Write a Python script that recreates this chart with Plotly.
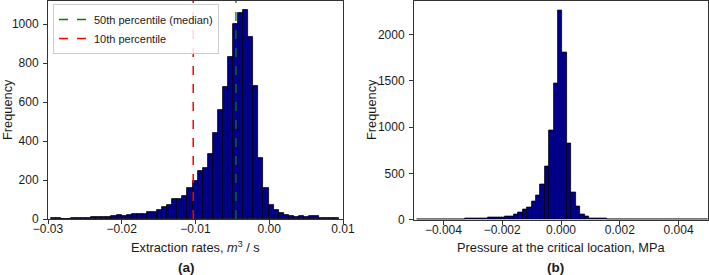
import plotly.graph_objects as go

# ---------------- data ----------------
# Panel (a): extraction rates histogram
a_bin_start = -0.02964
a_bin_width = 0.000687
a_counts = [5, 3, 2, 2, 3, 4, 5, 6, 8, 10, 11, 12, 15, 18, 17, 18, 24, 26, 28, 36,
            38, 46, 60, 73, 101, 101, 118, 159, 197, 248, 260, 333, 439, 559, 675, 831,
            998, 1058, 1070, 933, 682, 311, 157, 72, 46, 32, 20, 17, 10, 17, 10, 14, 14,
            4, 3, 3, 3]
a_median = -0.00452
a_p10 = -0.01031

# Panel (b): pressure histogram
b_bin_start = -0.0049
b_bin_width = 0.00015
b_counts = [2, 2, 1, 2, 3, 2, 3, 3, 4, 5, 6, 8, 10, 12, 14, 12, 22, 20, 22, 25,
            30, 35, 57, 78, 104, 132, 193, 258, 375, 578, 960, 1465, 2253, 1805, 823,
            290, 139, 60, 31, 14, 12, 10, 8, 6, 5, 4, 4, 3, 3, 3, 2, 2, 2, 2, 2, 2, 2,
            1, 1, 1, 1, 1, 1, 1, 1, 1]

a_xticks = [-0.03, -0.02, -0.01, 0.00, 0.01]
a_xticklabels = ["\u22120.03", "\u22120.02", "\u22120.01", "0.00", "0.01"]
a_yticks = [0, 200, 400, 600, 800, 1000]
b_xticks = [-0.004, -0.002, 0.0, 0.002, 0.004]
b_xticklabels = ["\u22120.004", "\u22120.002", "0.000", "0.002", "0.004"]
b_yticks = [0, 500, 1000, 1500, 2000]

# ---------------- figure ----------------
W, H = 709, 275
FONT = "Liberation Sans, Arial, sans-serif"
TXT = "#1a1a1a"
SPINE = "#333333"

a_centers = [a_bin_start + a_bin_width * (i + 0.5) for i in range(len(a_counts))]
b_centers = [b_bin_start + b_bin_width * (i + 0.5) for i in range(len(b_counts))]

fig = go.Figure()
fig.add_trace(go.Bar(x=a_centers, y=a_counts, width=a_bin_width,
                     marker=dict(color="#00008B", line=dict(color="black", width=0.8)),
                     xaxis="x", yaxis="y", showlegend=False, hoverinfo="skip"))
fig.add_trace(go.Bar(x=b_centers, y=b_counts, width=b_bin_width,
                     marker=dict(color="#00008B", line=dict(color="black", width=0.8)),
                     xaxis="x2", yaxis="y2", showlegend=False, hoverinfo="skip"))

fig.add_shape(type="line", x0=a_median, x1=a_median, xref="x", yref="y domain", y0=0, y1=1,
              line=dict(color="#008000", width=1.3, dash="dash"), showlegend=True,
              name="50th percentile (median)")
fig.add_shape(type="line", x0=a_p10, x1=a_p10, xref="x", yref="y domain", y0=0, y1=1,
              line=dict(color="red", width=1.5, dash="dash"), showlegend=True,
              name="10th percentile")

def px_x(p):
    return p / W

def px_y(p):
    return 1 - p / H

axis_common = dict(showline=True, mirror=True, linecolor=SPINE, linewidth=1,
                   ticks="outside", ticklen=4, tickwidth=1, tickcolor=SPINE,
                   showgrid=False, zeroline=False, automargin=False,
                   tickfont=dict(family=FONT, size=12, color=TXT))

fig.update_layout(
    template="none",
    width=W, height=H,
    margin=dict(l=0, r=0, t=0, b=0, autoexpand=False),
    paper_bgcolor="white", plot_bgcolor="white",
    bargap=0,
    xaxis=dict(domain=[px_x(48), px_x(343)], range=[-0.03, 0.01], ticklabelstandoff=-5,
               tickvals=a_xticks, ticktext=a_xticklabels, anchor="y", **axis_common),
    yaxis=dict(domain=[px_y(219), px_y(1)], range=[0, 1118], ticklabelstandoff=2,
               tickvals=a_yticks, anchor="x", **axis_common),
    xaxis2=dict(domain=[px_x(414), px_x(708)], range=[-0.005, 0.005], ticklabelstandoff=-5,
                tickvals=b_xticks, ticktext=b_xticklabels, anchor="y2", **axis_common),
    yaxis2=dict(domain=[px_y(219.6), px_y(0.5)], range=[0, 2366], ticklabelstandoff=2,
                tickvals=b_yticks, anchor="x2", **axis_common),
    legend=dict(x=px_x(53), y=px_y(4), xanchor="left", yanchor="top",
                bgcolor="rgba(255,255,255,0.85)", bordercolor="#cccccc", borderwidth=1,
                font=dict(family=FONT, size=11, color=TXT),
                itemwidth=30, tracegroupgap=0),
    font=dict(family=FONT, color=TXT),
)

annotations = [
    dict(text="Frequency", x=px_x(7), y=px_y(110), textangle=-90, font=dict(size=12.8)),
    dict(text="Frequency", x=px_x(371), y=px_y(110), textangle=-90, font=dict(size=12.8)),
    dict(text="Extraction rates, <i>m</i><sup>3</sup> / s", x=px_x(195), y=px_y(247),
         font=dict(size=12.8)),
    dict(text="Pressure at the critical location, MPa", x=px_x(561), y=px_y(247),
         font=dict(size=12.8)),
    dict(text="<b>(a)</b>", x=px_x(187), y=px_y(267), font=dict(size=13.5)),
    dict(text="<b>(b)</b>", x=px_x(555), y=px_y(267), font=dict(size=13.5)),
]
for an in annotations:
    an.update(xref="paper", yref="paper", showarrow=False, xanchor="center", yanchor="middle")
    an["font"].update(family=FONT, color=TXT)
    fig.add_annotation(**an)

fig.write_html("out.html")
